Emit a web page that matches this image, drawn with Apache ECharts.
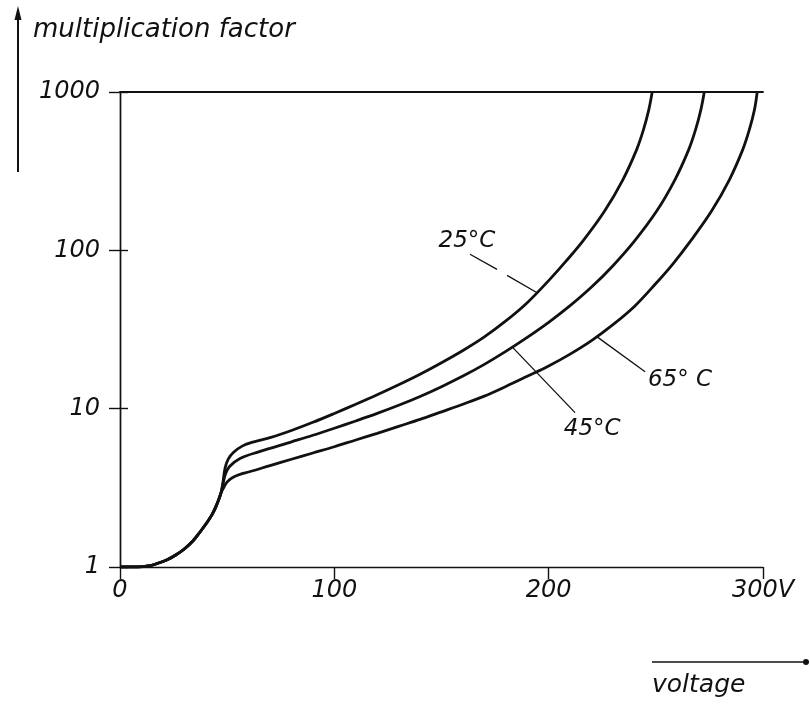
<!DOCTYPE html>
<html>
<head>
<meta charset="utf-8">
<title>multiplication factor vs voltage</title>
<script src="https://cdn.jsdelivr.net/npm/echarts@6/dist/echarts.min.js"></script>
<style>
  html, body { margin: 0; padding: 0; background: #fff; }
  #chart { width: 810px; height: 704px; }
</style>
</head>
<body>
<div id="chart"></div>
<script>
// common rise below ~47 V (all three temperatures coincide)
const commonVolts = [0, 8, 14, 18, 22, 26, 30, 34, 37, 40, 43, 45, 47]
const commonMult = [1.0, 1.0, 1.02, 1.06, 1.11, 1.19, 1.3, 1.46, 1.64, 1.86, 2.15, 2.45, 2.9]

// branches after the knee
const volts25 = [48, 49, 50.5, 53, 57, 62, 70, 80, 90, 100, 110, 120, 130, 140, 150, 160, 170, 180, 190, 200, 208, 216.3, 226.1, 234.6, 241, 244.2, 246.7, 248.3]
const mult25 = [3.4, 4.2, 4.8, 5.3, 5.8, 6.15, 6.56, 7.28, 8.2, 9.33, 10.67, 12.25, 14.16, 16.5, 19.5, 23.3, 28.4, 35.8, 46.7, 64.4, 85.1, 116, 177, 279, 431, 576, 771, 1000]

const volts45 = [48, 49, 51, 56, 65, 80, 90, 100, 110, 120, 130, 140, 150, 160, 170, 180, 190, 200, 210, 220, 230, 240, 250.4, 258.9, 265.3, 268.5, 271, 272.6]
const mult45 = [3.3, 3.8, 4.3, 4.85, 5.35, 6.17, 6.79, 7.52, 8.36, 9.33, 10.5, 11.94, 13.77, 16.07, 19.05, 23.0, 28.2, 35.1, 44.7, 58.6, 80, 114.3, 177, 279, 431, 576, 771, 1000]

const volts65 = [48, 50, 53, 57.4, 60, 70, 80, 90, 100, 110, 120, 130, 140, 150, 160, 170, 180, 190, 200, 210, 220, 230, 240, 250, 258, 266.5, 276, 284.3, 290.5, 293.6, 296, 297.3]
const mult65 = [3.1, 3.45, 3.7, 3.9, 3.98, 4.37, 4.79, 5.25, 5.75, 6.34, 6.98, 7.73, 8.55, 9.55, 10.67, 12.0, 13.8, 16.0, 18.6, 22.1, 26.9, 33.9, 44.2, 61.7, 82.2, 116, 177, 279, 431, 576, 771, 1000]

const xTicks = [0, 100, 200, 300]
const yTicks = [1, 10, 100, 1000]

// temperature labels and their leader lines, in data units
const tempLabels = [
  { text: '25°C', at: [161.9, 114.6], leader: [[[163.3, 94.4], [175.9, 75.8]], [[180.6, 69.5], [194.6, 54]]] },
  { text: '45°C', at: [220.3, 7.44], leader: [[[183.4, 24.2], [212.3, 9.44]]] },
  { text: '65° C', at: [261.3, 15.2], leader: [[[222.6, 28.4], [245, 17.1]]] }
]

const FONT = 'DejaVu Sans'
const ink = '#111'

function pairs (xs, ys) {
  return xs.map((x, i) => [x, ys[i]])
}

function curve (name, xs, ys) {
  return {
    name,
    type: 'line',
    data: pairs(commonVolts, commonMult).concat(pairs(xs, ys)),
    showSymbol: false,
    smooth: 0.35,
    lineStyle: { color: ink, width: 2.8 },
    itemStyle: { color: ink },
    silent: true,
    z: 3
  }
}

const annotations = {
  type: 'line',
  data: [],
  silent: true,
  markLine: {
    silent: true,
    symbol: 'none',
    label: { show: false },
    lineStyle: { color: ink, width: 1.3, type: 'solid' },
    data: tempLabels.flatMap(t => t.leader.map(seg => [{ coord: seg[0] }, { coord: seg[1] }]))
  },
  markPoint: {
    silent: true,
    symbol: 'circle',
    symbolSize: 1,
    itemStyle: { color: 'rgba(0,0,0,0)' },
    label: {
      show: true,
      position: 'inside',
      color: ink,
      fontFamily: FONT,
      fontStyle: 'italic',
      fontSize: 23
    },
    data: tempLabels.map(t => ({ coord: t.at, value: t.text, label: { formatter: t.text } }))
  }
}

const chart = echarts.init(document.getElementById('chart'))
chart.setOption({
  animation: false,
  backgroundColor: '#fff',
  grid: { left: 120, right: 47, top: 92, bottom: 137 },
  xAxis: [
    {
      type: 'value',
      min: 0,
      max: 300,
      interval: 100,
      axisLine: { lineStyle: { color: ink, width: 1.4 } },
      axisTick: { show: true, inside: false, length: 12, lineStyle: { color: ink, width: 1.4 } },
      axisLabel: {
        margin: 12,
        color: ink,
        fontFamily: FONT,
        fontStyle: 'italic',
        fontSize: 24,
        formatter: v => xTicks.includes(v) ? (v === 300 ? '300V' : String(v)) : ''
      },
      splitLine: { show: false }
    },
    {
      type: 'value',
      position: 'top',
      min: 0,
      max: 300,
      interval: 100,
      axisLine: { show: true, lineStyle: { color: ink, width: 1.8 } },
      axisTick: { show: false },
      axisLabel: { show: false },
      splitLine: { show: false }
    }
  ],
  yAxis: [
    {
      type: 'log',
      logBase: 10,
      min: 1,
      max: 1000,
      axisLine: { show: true, lineStyle: { color: ink, width: 1.4 } },
      axisTick: { show: true, inside: false, length: 11, lineStyle: { color: ink, width: 1.4 } },
      axisLabel: {
        margin: 20,
        color: ink,
        fontFamily: FONT,
        fontStyle: 'italic',
        fontSize: 24,
        formatter: v => yTicks.includes(Math.round(v)) ? String(Math.round(v)) : ''
      },
      splitLine: { show: false }
    },
    {
      type: 'log',
      logBase: 10,
      min: 1,
      max: 1000,
      position: 'right',
      axisLine: { show: true, lineStyle: { color: ink, width: 1.4 } },
      axisTick: { show: true, inside: false, length: 8, lineStyle: { color: ink, width: 1.4 } },
      axisLabel: { show: false },
      splitLine: { show: false }
    }
  ],
  graphic: [
    // vertical arrow and title of the y axis
    { type: 'line', shape: { x1: 18, y1: 172, x2: 18, y2: 16 }, style: { stroke: ink, lineWidth: 2 } },
    { type: 'polygon', shape: { points: [[18, 6], [14.5, 20], [21.5, 20]] }, style: { fill: ink } },
    {
      type: 'text', left: 33, top: 17,
      style: { text: 'multiplication factor', fill: ink, font: 'italic 26px "' + FONT + '"' }
    },
    // horizontal arrow and title of the x axis
    { type: 'line', shape: { x1: 652, y1: 662, x2: 805, y2: 662 }, style: { stroke: ink, lineWidth: 1.6 } },
    { type: 'circle', shape: { cx: 806, cy: 662, r: 3 }, style: { fill: ink } },
    {
      type: 'text', left: 652, top: 673,
      style: { text: 'voltage', fill: ink, font: 'italic 25px "' + FONT + '"' }
    }
  ],
  series: [
    curve('25°C', volts25, mult25),
    curve('45°C', volts45, mult45),
    curve('65°C', volts65, mult65),
    annotations
  ]
})
</script>
</body>
</html>
